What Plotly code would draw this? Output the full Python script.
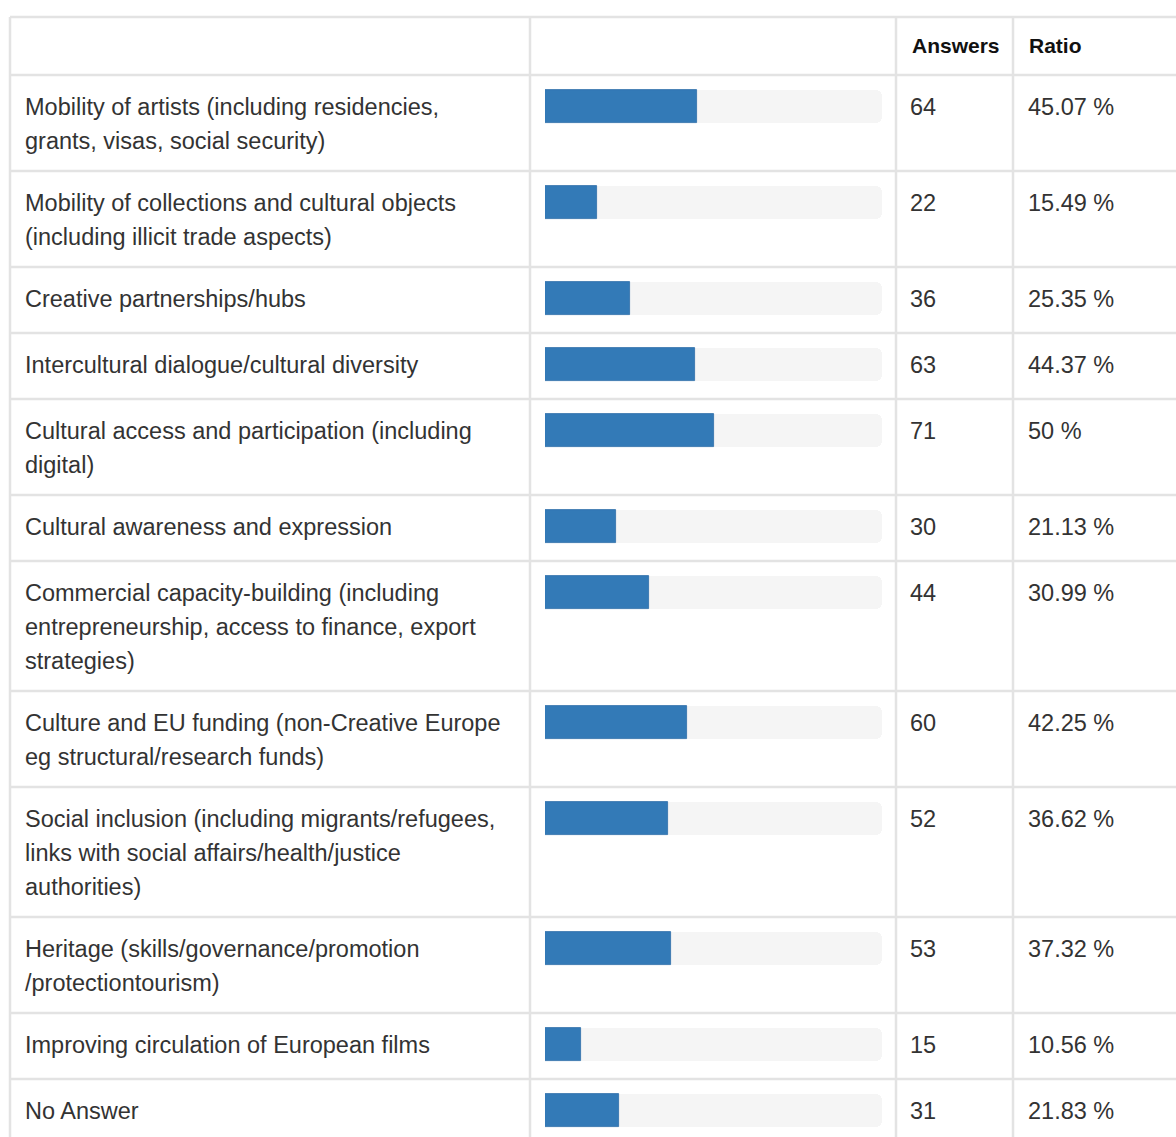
import plotly.graph_objects as go

# ---- data ----
label_lines = [
    ["Mobility of artists (including residencies,", "grants, visas, social security)"],
    ["Mobility of collections and cultural objects", "(including illicit trade aspects)"],
    ["Creative partnerships/hubs"],
    ["Intercultural dialogue/cultural diversity"],
    ["Cultural access and participation (including", "digital)"],
    ["Cultural awareness and expression"],
    ["Commercial capacity-building (including", "entrepreneurship, access to finance, export", "strategies)"],
    ["Culture and EU funding (non-Creative Europe", "eg structural/research funds)"],
    ["Social inclusion (including migrants/refugees,", "links with social affairs/health/justice", "authorities)"],
    ["Heritage (skills/governance/promotion", "/protectiontourism)"],
    ["Improving circulation of European films"],
    ["No Answer"],
]
answers = [64, 22, 36, 63, 71, 30, 44, 60, 52, 53, 15, 31]
ratios = [45.07, 15.49, 25.35, 44.37, 50, 21.13, 30.99, 42.25, 36.62, 37.32, 10.56, 21.83]
ratio_labels = ["45.07 %", "15.49 %", "25.35 %", "44.37 %", "50 %", "21.13 %",
                "30.99 %", "42.25 %", "36.62 %", "37.32 %", "10.56 %", "21.83 %"]
headers = ["", "", "Answers", "Ratio"]

# ---- layout constants (pixels) ----
W, H = 1176, 1137
col_x = [10, 530, 896, 1013, 1300]
header_top, header_h = 17, 58
row_h = {1: 66, 2: 96, 3: 130}
line_gap = 34
first_line = 32
bar_off, bar_h = 15, 33
txt_color = "#333333"
grid_color = "#e3e3e3"
FONT = "Liberation Sans, Arial, Helvetica, sans-serif"
fs = 23.5

row_tops = []
t = header_top + header_h
for lines in label_lines:
    row_tops.append(t)
    t += row_h[len(lines)]
row_bottoms = [rt + row_h[len(l)] for rt, l in zip(row_tops, label_lines)]
bar_centers = [rt + bar_off + bar_h / 2 for rt in row_tops]

fig = go.Figure()

# track (100 %)
fig.add_trace(go.Bar(
    x=[100] * len(ratios), y=bar_centers, orientation="h", width=bar_h,
    marker=dict(color="#f5f5f5", line=dict(width=0), cornerradius=6),
    xaxis="x2", yaxis="y", hoverinfo="skip", showlegend=False,
))
# value bars
fig.add_trace(go.Bar(
    x=ratios, y=bar_centers, orientation="h", width=bar_h,
    marker=dict(color="#337ab7", line=dict(width=0.8, color="#2f6fa8")),
    xaxis="x2", yaxis="y", showlegend=False,
    customdata=answers, hovertemplate="%{x} %<extra></extra>",
))

shapes = []
hlines = [header_top, header_top + header_h] + row_bottoms
for yv in hlines:
    shapes.append(dict(type="line", xref="x", yref="y", x0=col_x[0], x1=W + 10,
                       y0=yv, y1=yv, line=dict(color=grid_color, width=2.5), layer="below"))
for xv in col_x[:4]:
    shapes.append(dict(type="line", xref="x", yref="y", x0=xv, x1=xv,
                       y0=header_top, y1=H + 20, line=dict(color=grid_color, width=2.5), layer="below"))

annotations = []
for ci, htxt in enumerate(headers):
    if htxt:
        annotations.append(dict(xref="x", yref="y", x=col_x[ci] + 14, y=header_top + header_h / 2 - 1,
                                text="<b>" + htxt + "</b>", showarrow=False, xanchor="left",
                                yanchor="middle", font=dict(family=FONT, size=21, color="#111")))
for i, lines in enumerate(label_lines):
    for k, ln in enumerate(lines):
        annotations.append(dict(xref="x", yref="y", x=col_x[0] + 13,
                                y=row_tops[i] + first_line + k * line_gap, text=ln,
                                showarrow=False, xanchor="left", yanchor="middle",
                                font=dict(family=FONT, size=fs, color=txt_color)))
    annotations.append(dict(xref="x", yref="y", x=col_x[2] + 12, y=row_tops[i] + first_line,
                            text=str(answers[i]), showarrow=False, xanchor="left", yanchor="middle",
                            font=dict(family=FONT, size=fs, color=txt_color)))
    annotations.append(dict(xref="x", yref="y", x=col_x[3] + 13, y=row_tops[i] + first_line,
                            text=ratio_labels[i], showarrow=False, xanchor="left", yanchor="middle",
                            font=dict(family=FONT, size=fs, color=txt_color)))

fig.update_layout(
    width=W, height=H, margin=dict(l=0, r=0, t=0, b=0),
    paper_bgcolor="white", plot_bgcolor="rgba(0,0,0,0)",
    barmode="overlay", bargap=0,
    xaxis=dict(range=[0, W], domain=[0, 1], visible=False, fixedrange=True),
    xaxis2=dict(range=[0, 100], domain=[545 / W, 882 / W], anchor="y",
                visible=False, fixedrange=True),
    yaxis=dict(range=[H, 0], domain=[0, 1], visible=False, fixedrange=True),
    shapes=shapes, annotations=annotations, showlegend=False,
)

fig.write_html("out.html", config={"displayModeBar": False},
               post_script="document.body.style.margin='0';document.body.style.overflow='hidden';")
